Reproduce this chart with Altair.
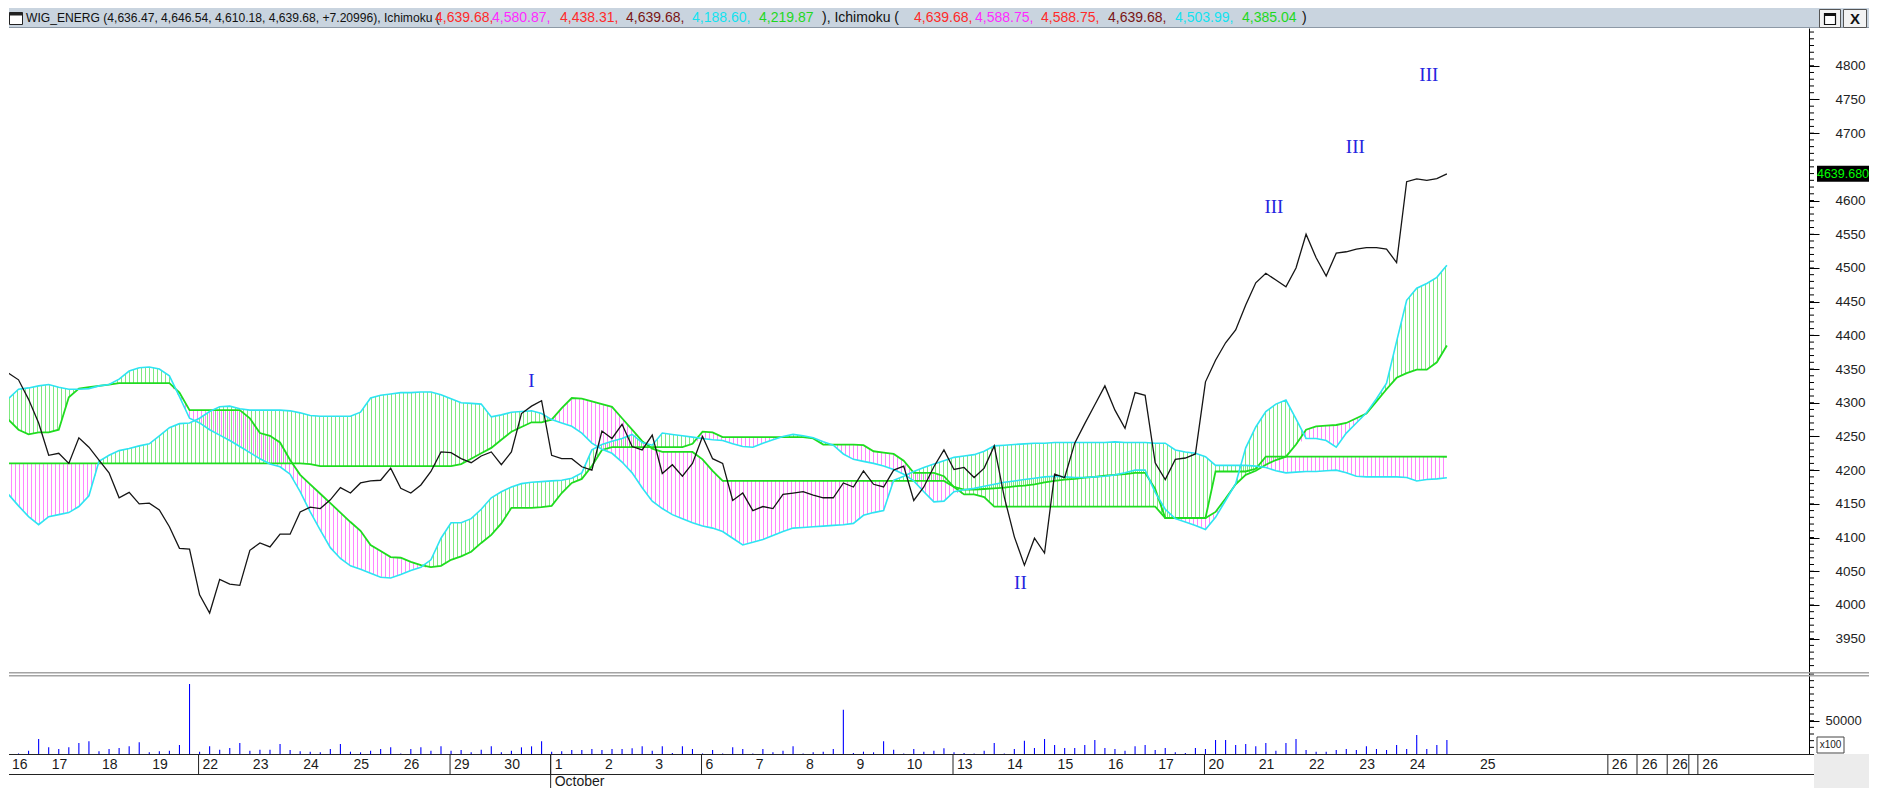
import altair as alt
import pandas as pd

# ---------------- data ----------------
close = [4340, 4344, 4334, 4305, 4270, 4222, 4225, 4210, 4248, 4234,
         4215, 4196, 4159, 4167, 4150, 4151, 4141, 4116, 4084, 4083,
         4015, 3988, 4038, 4031, 4029, 4081, 4092, 4086, 4105, 4105,
         4138, 4145, 4143, 4156, 4174, 4166, 4181, 4184, 4185, 4203,
         4173, 4166, 4178, 4198, 4227, 4226, 4217, 4211, 4221, 4227,
         4208, 4227, 4284, 4295, 4303, 4222, 4217, 4217, 4205, 4200,
         4258, 4247, 4268, 4235, 4230, 4252, 4195, 4208, 4191, 4210,
         4250, 4217, 4210, 4155, 4166, 4140, 4146, 4143, 4164, 4166,
         4168, 4163, 4159, 4159, 4181, 4175, 4199, 4179, 4175, 4200,
         4206, 4155, 4175, 4205, 4230, 4201, 4204, 4189, 4203, 4236,
         4160, 4101, 4059, 4099, 4077, 4194, 4189, 4240, 4269, 4297,
         4325, 4289, 4262, 4315, 4311, 4211, 4186, 4216, 4218, 4224,
         4331, 4363, 4389, 4408, 4445, 4478, 4492, 4482, 4472, 4500,
         4550, 4515, 4488, 4522, 4524, 4528, 4530, 4530, 4528, 4508,
         4628, 4632, 4630, 4632.47, 4639.68]

# second Ichimoku (fast cloud): cyan span A, green span B
fast_a = [4289, 4306, 4320, 4322, 4325, 4327, 4323, 4320, 4320, 4321,
          4325, 4327, 4335, 4347, 4352, 4353, 4350, 4340, 4309, 4277,
          4270, 4260, 4252, 4244, 4235, 4226, 4217, 4209, 4205, 4194,
          4168, 4138, 4111, 4085, 4069, 4058, 4053, 4047, 4041, 4040,
          4045, 4051, 4056, 4067, 4099, 4122, 4122, 4128, 4142, 4159,
          4168, 4175, 4180, 4182, 4183, 4184, 4185, 4188, 4196, 4230,
          4238, 4243, 4247, 4253, 4241, 4237, 4255, 4253, 4251, 4249,
          4247, 4245, 4244, 4239, 4235, 4234, 4240, 4245, 4250, 4253,
          4251, 4248, 4242, 4237, 4224, 4216, 4213, 4210, 4206, 4201,
          4194, 4184, 4168, 4153, 4154, 4168, 4171, 4173, 4176, 4179,
          4182, 4184, 4186, 4188, 4190, 4191, 4190, 4189, 4189, 4190,
          4191, 4193, 4196, 4200, 4200, 4167, 4142, 4128, 4123, 4118,
          4112, 4130, 4155, 4180, 4233, 4264, 4287, 4298, 4304, 4276,
          4247, 4247, 4244, 4234, 4255, 4270, 4285, 4306, 4329, 4391,
          4452, 4470, 4477, 4486, 4503.99]
fast_b = [4289, 4275, 4260, 4253, 4256, 4256, 4260, 4308, 4321, 4323,
          4325, 4327, 4329, 4329, 4329, 4329, 4329, 4329, 4315, 4289,
          4289, 4289, 4289, 4289, 4289, 4277, 4255, 4251, 4241, 4215,
          4193, 4179, 4165, 4151, 4137, 4123, 4110, 4089, 4080, 4071,
          4070, 4064, 4059, 4056, 4058, 4067, 4072, 4079, 4092, 4104,
          4121, 4144, 4144, 4144, 4145, 4147, 4166, 4181, 4187, 4206,
          4230, 4234, 4234, 4234, 4234, 4234, 4234, 4234, 4234, 4239,
          4257, 4256, 4249, 4249, 4249, 4249, 4249, 4249, 4249, 4249,
          4249, 4247, 4238, 4238, 4238, 4238, 4237, 4228, 4226, 4224,
          4214, 4196, 4196, 4196, 4191, 4175, 4164, 4164, 4160, 4146,
          4146, 4146, 4146, 4146, 4146, 4146, 4146, 4146, 4146, 4146,
          4146, 4146, 4146, 4146, 4146, 4146, 4129, 4129, 4129, 4129,
          4129, 4138, 4158, 4179, 4193, 4199, 4208, 4215, 4220, 4238,
          4260, 4265, 4266, 4267, 4270, 4277, 4284, 4302, 4320, 4337,
          4344, 4349, 4349, 4360, 4385.04]
# first Ichimoku (slow cloud): cyan span A, green span B
slow_a = [4178, 4164, 4147, 4131, 4119, 4131, 4134, 4137, 4146, 4162,
          4213, 4222, 4229, 4232, 4236, 4239, 4251, 4263, 4269, 4270,
          4277, 4287, 4294, 4295, 4291, 4289, 4289, 4289, 4289, 4288,
          4285, 4281, 4280, 4280, 4280, 4280, 4286, 4307, 4311, 4313,
          4315, 4315, 4316, 4316, 4312, 4306, 4300, 4299, 4298, 4279,
          4282, 4286, 4287, 4288, 4284, 4275, 4270, 4265, 4255, 4240,
          4231, 4225, 4212, 4196, 4174, 4154, 4143, 4134, 4128, 4122,
          4117, 4114, 4109, 4099, 4089, 4093, 4097, 4103, 4109, 4114,
          4115, 4116, 4117, 4118, 4119, 4121, 4133, 4137, 4140, 4185,
          4191, 4198, 4204, 4209, 4214, 4219, 4221, 4223, 4228, 4236,
          4237, 4238, 4239, 4240, 4240, 4241, 4241, 4241, 4241, 4241,
          4241, 4242, 4241, 4241, 4241, 4240, 4240, 4230, 4227, 4225,
          4220, 4207, 4207, 4207, 4207, 4206, 4204, 4199, 4196, 4197,
          4198, 4198, 4199, 4200, 4196, 4191, 4190, 4190, 4190, 4190,
          4189, 4184, 4186, 4187, 4188.60]
slow_b = [4210, 4210, 4210, 4210, 4210, 4210, 4210, 4210, 4210, 4210,
          4210, 4210, 4210, 4210, 4210, 4210, 4210, 4210, 4210, 4210,
          4210, 4210, 4210, 4210, 4210, 4210, 4210, 4210, 4210, 4210,
          4210, 4209, 4206, 4206, 4206, 4206, 4206, 4206, 4206, 4206,
          4206, 4206, 4206, 4206, 4206, 4206, 4209, 4217, 4225, 4233,
          4245, 4257, 4264, 4271, 4271, 4275, 4292, 4307, 4306, 4302,
          4298, 4294, 4277, 4260, 4243, 4232, 4227, 4227, 4227, 4227,
          4216, 4199, 4184, 4184, 4184, 4184, 4184, 4184, 4184, 4184,
          4184, 4184, 4184, 4184, 4184, 4184, 4184, 4184, 4184, 4184,
          4184, 4184, 4184, 4184, 4184, 4175, 4171, 4171, 4172, 4173,
          4174, 4176, 4177, 4179, 4182, 4184, 4186, 4187, 4189, 4190,
          4192, 4193, 4194, 4196, 4196, 4172, 4129, 4129, 4129, 4129,
          4129, 4198, 4198, 4198, 4198, 4202, 4220, 4220, 4220, 4220,
          4220, 4220, 4220, 4220, 4220, 4220, 4220, 4220, 4220, 4220,
          4220, 4220, 4220, 4220, 4219.87]
volume = [800, 2500, 800, 5000, 22500, 10000, 7500, 10000, 16500, 19000,
          4000, 7500, 9000, 11500, 17500, 2500, 4000, 5000, 13500, 105000,
          3500, 11500, 6500, 9000, 16500, 5000, 6500, 6500, 15000, 6000,
          4000, 3500, 2500, 7500, 15000, 3500, 2500, 5000, 7500, 10000,
          800, 7500, 10000, 5000, 11500, 5000, 6000, 2500, 6500, 11500,
          2500, 5000, 10000, 11500, 19000, 3500, 4000, 6000, 6000, 7500,
          6000, 7500, 7500, 8500, 11500, 5000, 11500, 1500, 11500, 7500,
          800, 6000, 800, 10000, 7500, 800, 7500, 2500, 5000, 11500,
          800, 2500, 3500, 7500, 66500, 1500, 3500, 2500, 19000, 6500,
          800, 7500, 3500, 5000, 8500, 2500, 1500, 800, 5000, 16500,
          800, 7500, 20000, 9000, 22500, 13500, 9000, 9000, 13500, 21000,
          9000, 7500, 5000, 11500, 13500, 6000, 9000, 2500, 1500, 9000,
          7500, 21000, 21000, 13500, 15000, 11500, 16500, 5000, 16500, 22500,
          6000, 3500, 3500, 6000, 7500, 6000, 11500, 7500, 6000, 13500,
          7500, 28500, 7500, 13500, 21000]

day_labels = ["16", "17", "18", "19", "22", "23", "24", "25", "26", "29", "30",
              "1", "2", "3", "6", "7", "8", "9", "10", "13", "14", "15", "16",
              "17", "20", "21", "22", "23", "24"]
week_start_days = [4, 9, 11, 14, 19, 24]
month_start_day = 11
future_labels = ["25", "26", "26", "26", "26"]
future_label_pos = [147.0, 160.1, 163.1, 166.1, 169.1]
future_sep_pos = [160.1, 163.0, 166.0, 168.15, 169.05]

wave_text = ["I", "II", "III", "III", "III"]
wave_x = [53.0, 101.6, 126.8, 134.9, 142.2]
wave_y = [4332, 4032, 4591, 4679, 4786]

header_text = ["WIG_ENERG (4,636.47, 4,646.54, 4,610.18, 4,639.68, +7.20996), Ichimoku (",
               "4,639.68,", "4,580.87,", "4,438.31,", "4,639.68,", "4,188.60,", "4,219.87",
               " ), Ichimoku (",
               "4,639.68,", "4,588.75,", "4,588.75,", "4,639.68,", "4,503.99,", "4,385.04",
               " )"]
header_x = [17, 426, 483, 551, 617, 683, 750, 813, 905, 966, 1032, 1099, 1166, 1233, 1293]
header_size = [12.1, 14, 14, 14, 14, 14, 14, 14, 14, 14, 14, 14, 14, 14, 14]
header_col = ["#111111", "#ff2a2a", "#ff2aff", "#ff2a2a", "#7a1414", "#12e2f0", "#1ed81e",
              "#111111", "#ff2a2a", "#ff2aff", "#ff2a2a", "#7a1414", "#12e2f0", "#1ed81e",
              "#111111"]

BPD = 5
n = len(close)
for nm, s in [("fast_a", fast_a), ("fast_b", fast_b), ("slow_a", slow_a),
              ("slow_b", slow_b), ("volume", volume)]:
    assert len(s) == n, (nm, len(s))

df = pd.DataFrame({"i": list(range(n)), "close": close, "fa": fast_a, "fb": fast_b,
                   "sa": slow_a, "sb": slow_b, "vol": volume})

# ---------------- layout ----------------
W_TOTAL = 1860
WP = 1800
HT, HM, HV, HD = 20, 644, 82, 34
PPB = 10.059
XDOM = [1.054, 1.054 + WP / PPB]
YDOM = [3900.5, 4856]
VDOM = [0, 123000]

SANS = "Liberation Sans, Arial, sans-serif"
NARROW = "Liberation Sans Narrow, Arial Narrow, Liberation Sans, sans-serif"
SERIF = "Liberation Serif, Times New Roman, serif"
CYAN = "#2ee4f2"
GREEN = "#1fdc1f"
HATCH_G = "#7fe97f"
HATCH_M = "#ff86ff"

xs = alt.Scale(domain=XDOM, nice=False, zero=False)
ys = alt.Scale(domain=YDOM, nice=False, zero=False)
vs = alt.Scale(domain=VDOM, nice=False, zero=False)
X = alt.X("i:Q", scale=xs, axis=None)

yax = alt.Axis(orient="right", values=[v for v in range(3950, 4801, 50) if v != 4650],
               format="d", tickSize=10, tickColor="black", domainColor="black",
               labelPadding=16, labelFont=SANS, labelFontSize=13.5, labelColor="#222222",
               labelOverlap=False, labelFlush=False, grid=False, title=None)


def Y(f):
    return alt.Y(f, scale=ys, axis=yax)


def hatch(color, phase):
    span = (n - 1) * PPB
    clear = "rgba(255,255,255,0)"
    stops = []
    k = 0
    while True:
        a = phase + 4.0 * k
        b = a + 1.0
        if b >= span:
            break
        stops += [{"offset": a / span, "color": clear}, {"offset": a / span, "color": color},
                  {"offset": b / span, "color": color}, {"offset": b / span, "color": clear}]
        k += 1
    return {"gradient": "linear", "x1": 0, "y1": 0, "x2": 1, "y2": 0, "stops": stops}


ph = (XDOM[0] * PPB) % 1.0
base = alt.Chart(df)
cloud = base.transform_calculate(lo_f="min(datum.fa, datum.fb)", lo_s="min(datum.sa, datum.sb)")

fills = [
    cloud.mark_area(fill=hatch(HATCH_G, ph), clip=True).encode(x=X, y=Y("sa:Q"), y2="lo_s:Q"),
    cloud.mark_area(fill=hatch(HATCH_M, ph), clip=True).encode(x=X, y=Y("sb:Q"), y2="lo_s:Q"),
    cloud.mark_area(fill=hatch(HATCH_G, ph + 2), clip=True).encode(x=X, y=Y("fa:Q"), y2="lo_f:Q"),
    cloud.mark_area(fill=hatch(HATCH_M, ph + 2), clip=True).encode(x=X, y=Y("fb:Q"), y2="lo_f:Q"),
]
lines = [
    base.mark_line(color=GREEN, strokeWidth=1.8, clip=True).encode(x=X, y=Y("sb:Q")),
    base.mark_line(color=GREEN, strokeWidth=1.8, clip=True).encode(x=X, y=Y("fb:Q")),
    base.mark_line(color=CYAN, strokeWidth=1.6, clip=True).encode(x=X, y=Y("sa:Q")),
    base.mark_line(color=CYAN, strokeWidth=1.6, clip=True).encode(x=X, y=Y("fa:Q")),
    base.mark_line(color="#151515", strokeWidth=1.3, clip=True).encode(x=X, y=Y("close:Q")),
]
minor = alt.Chart(pd.DataFrame({"t": list(range(3910, 4851, 10))})).mark_rule(
    color="black", strokeWidth=1).encode(y=Y("t:Q"), x=alt.value(WP), x2=alt.value(WP + 5))
last = pd.DataFrame({"v": [close[-1]]})
box = alt.Chart(last).mark_rect(color="black", yOffset=-8, y2Offset=8).encode(
    x=alt.value(WP + 8), x2=alt.value(WP + 60), y=Y("v:Q"), y2="v:Q")
box_t = alt.Chart(last).mark_text(color="#00ff00", font=SANS, fontSize=12.5, align="center",
                                  baseline="middle").encode(
    x=alt.value(WP + 34), y=Y("v:Q"), text=alt.Text("v:Q", format=".3f"))
waves = alt.Chart(pd.DataFrame({"x": wave_x, "y": wave_y, "t": wave_text})).mark_text(
    font=SERIF, fontSize=19, color="#2424e0", baseline="middle").encode(
    x=alt.X("x:Q", scale=xs, axis=None), y=Y("y:Q"), text="t:N")

main = alt.layer(*fills, *lines, minor, box, box_t, waves).properties(width=WP, height=HM)

# ---------------- volume pane ----------------
vax = alt.Axis(orient="right", values=[50000], format="d", tickSize=10, tickColor="black",
               domainColor="black", labelPadding=6, labelFont=SANS, labelFontSize=13,
               labelColor="#222222", labelFlush=False, grid=False, title=None)
one = pd.DataFrame({"k": [0]})
sep = [alt.Chart(one).mark_rule(color="#a4a4a4", strokeWidth=1.5).encode(
    x=alt.value(0), x2=alt.value(W_TOTAL), y=alt.value(yy)) for yy in (0.75, 3.75)]
vbars = base.mark_rule(color="#0000ff", strokeWidth=1.1, clip=True).encode(
    x=X, y=alt.Y("vol:Q", scale=vs, axis=vax), y2=alt.datum(0))
vminor = alt.Chart(pd.DataFrame({"t": list(range(10000, 120001, 10000))})).mark_rule(
    color="black").encode(y=alt.Y("t:Q", scale=vs, axis=vax), x=alt.value(WP), x2=alt.value(WP + 5))
x100 = alt.Chart(one).mark_rect(fill="white", stroke="#444444", strokeWidth=1).encode(
    x=alt.value(WP + 8), x2=alt.value(WP + 35), y=alt.value(HV - 17), y2=alt.value(HV - 1))
x100t = alt.Chart(one).mark_text(font=SANS, fontSize=10, color="#222222", align="center",
                                 baseline="middle").encode(
    x=alt.value(WP + 21.5), y=alt.value(HV - 9), text=alt.value("x100"))
vol = alt.layer(vbars, vminor, *sep, x100, x100t).properties(width=WP, height=HV)

# ---------------- date row ----------------
label_pos = [max(BPD * k, XDOM[0]) for k in range(len(day_labels))]
days_df = pd.DataFrame({"i": label_pos, "lab": day_labels})
fut_df = pd.DataFrame({"i": future_label_pos, "lab": future_labels})
seps_df = pd.DataFrame({"i": [BPD * k for k in week_start_days] + future_sep_pos})
month_df = pd.DataFrame({"i": [BPD * month_start_day], "lab": ["October"]})
gray = alt.Chart(one).mark_rect(fill="#ececec").encode(
    x=alt.value(WP + 5), x2=alt.value(W_TOTAL), y=alt.value(0), y2=alt.value(HD))
row_lines = [alt.Chart(one).mark_rule(color="#222222").encode(
    x=alt.value(0), x2=alt.value(WP + 5), y=alt.value(yy)) for yy in (0.5, 20.5)]
seps = alt.Chart(seps_df).mark_rule(color="#222222", xOffset=-1).encode(
    x=alt.X("i:Q", scale=xs, axis=None), y=alt.value(0), y2=alt.value(21))
msep = alt.Chart(month_df).mark_rule(color="#222222", xOffset=-1).encode(
    x=alt.X("i:Q", scale=xs, axis=None), y=alt.value(0), y2=alt.value(HD))
labs = alt.Chart(days_df).mark_text(font=NARROW, fontSize=14, color="#1a1a1a", align="left",
                                    baseline="middle", dx=3).encode(
    x=alt.X("i:Q", scale=xs, axis=None), y=alt.value(11), text="lab:N")
flabs = alt.Chart(fut_df).mark_text(font=NARROW, fontSize=14, color="#1a1a1a", align="left",
                                    baseline="middle", dx=3).encode(
    x=alt.X("i:Q", scale=xs, axis=None), y=alt.value(11), text="lab:N")
mlab = alt.Chart(month_df).mark_text(font=NARROW, fontSize=14, color="#1a1a1a", align="left",
                                     baseline="middle", dx=3).encode(
    x=alt.X("i:Q", scale=xs, axis=None), y=alt.value(28), text="lab:N")
dates = alt.layer(gray, *row_lines, seps, msep, labs, flabs, mlab).properties(width=WP, height=HD)

# ---------------- header bar ----------------
hdr_df = pd.DataFrame({"x": header_x, "t": header_text, "c": header_col, "s": header_size})
hbg = alt.Chart(one).mark_rect(fill="#c9d4df").encode(
    x=alt.value(0), x2=alt.value(W_TOTAL), y=alt.value(0), y2=alt.value(HT))
hline = alt.Chart(one).mark_rule(color="#8d99a6").encode(
    x=alt.value(0), x2=alt.value(W_TOTAL), y=alt.value(HT - 0.5))
htxt = alt.Chart(hdr_df).mark_text(font=SANS, align="left", baseline="middle").encode(
    x=alt.X("x:Q", scale=None), y=alt.value(10), text="t:N",
    color=alt.Color("c:N", scale=None), size=alt.Size("s:Q", scale=None))
icon = alt.Chart(one).mark_rect(fill="white", stroke="#222222", strokeWidth=1).encode(
    x=alt.value(0.5), x2=alt.value(13.5), y=alt.value(4.5), y2=alt.value(16.5))
icon_top = alt.Chart(one).mark_rect(fill="#222222").encode(
    x=alt.value(0.5), x2=alt.value(13.5), y=alt.value(4.5), y2=alt.value(7.5))
btn1 = alt.Chart(one).mark_rect(fill="#f3f3f3", stroke="#555555").encode(
    x=alt.value(1810.5), x2=alt.value(1831.5), y=alt.value(1.5), y2=alt.value(19.5))
btn1i = alt.Chart(one).mark_rect(fill="white", stroke="#111111", strokeWidth=1.2).encode(
    x=alt.value(1815.5), x2=alt.value(1826.5), y=alt.value(5.5), y2=alt.value(16.5))
btn1t = alt.Chart(one).mark_rect(fill="#111111").encode(
    x=alt.value(1815.5), x2=alt.value(1826.5), y=alt.value(5.5), y2=alt.value(8))
btn2 = alt.Chart(one).mark_rect(fill="#f3f3f3", stroke="#555555").encode(
    x=alt.value(1834.5), x2=alt.value(1857.5), y=alt.value(1.5), y2=alt.value(19.5))
btn2t = alt.Chart(one).mark_text(font=SANS, fontSize=15, fontWeight="bold", color="#111111",
                                 align="center", baseline="middle").encode(
    x=alt.value(1846), y=alt.value(11), text=alt.value("X"))
header = alt.layer(hbg, hline, icon, icon_top, htxt, btn1, btn1i, btn1t, btn2, btn2t).properties(
    width=W_TOTAL, height=HT)

chart = alt.vconcat(header, main, vol, dates, spacing=0, bounds="flush").properties(
    padding=0, background="white").configure_view(stroke=None)

chart.save("out.html", embed_options={"renderer": "svg", "actions": False})
